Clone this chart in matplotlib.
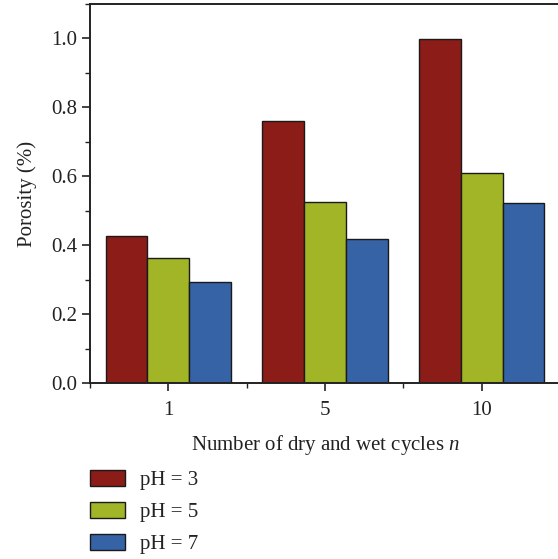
import matplotlib
matplotlib.use("Agg")
import matplotlib.pyplot as plt
import numpy as np
from matplotlib.ticker import MultipleLocator, FixedLocator

plt.rcParams['font.family'] = ['Liberation Serif', 'DejaVu Serif']
plt.rcParams['mathtext.fontset'] = 'custom'
plt.rcParams['mathtext.it'] = 'Liberation Serif:italic'

categories = ['1', '5', '10']
series_labels = ['pH = 3', 'pH = 5', 'pH = 7']
ph3 = [0.428, 0.760, 0.999]
ph5 = [0.363, 0.526, 0.609]
ph7 = [0.294, 0.419, 0.521]
colors = ['#8B1C18', '#A2B526', '#3563A6']

fig = plt.figure(figsize=(5.58, 5.59), dpi=100)
ax = fig.add_axes([90/558, 176/559, 470/558, 379/559])

x = np.arange(len(categories))
w = 0.8 / 3
for i, (vals, lab, c) in enumerate(zip([ph3, ph5, ph7], series_labels, colors)):
    ax.bar(x + (i - 1) * w, vals, width=w, color=c, edgecolor='#1a1a1a',
           linewidth=1.0, label=lab)

ax.set_xlim(-0.5, 2.5)
ax.set_ylim(0, 1.1)
ax.set_xticks(x)
ax.set_xticklabels(categories)
ax.xaxis.set_minor_locator(FixedLocator([-0.5, 0.5, 1.5]))
ax.yaxis.set_major_locator(MultipleLocator(0.2))
ax.yaxis.set_minor_locator(MultipleLocator(0.1))
ax.yaxis.set_major_formatter(matplotlib.ticker.FormatStrFormatter('%.1f'))
ax.tick_params(which='major', length=6, width=1.2, labelsize=15, color='#222222', labelcolor='#222222')
ax.tick_params(which='minor', length=3.5, width=1.0, color='#222222')
ax.tick_params(axis='x', pad=7)
ax.tick_params(axis='y', pad=3)
for s in ['left', 'bottom', 'top']:
    ax.spines[s].set_linewidth(1.4)
    ax.spines[s].set_color('#222222')
ax.spines['right'].set_visible(False)

ax.set_ylabel('Porosity (%)', fontsize=15, color='#222222', labelpad=10)
ax.set_xlabel('Number of dry and wet cycles $\\mathit{n}$', fontsize=15, color='#222222', labelpad=9)

handles, labels = ax.get_legend_handles_labels()
fig.legend(handles, labels, loc='upper left', bbox_to_anchor=(90/558, 1 - 470/559),
           frameon=False, fontsize=15, handlelength=1.68, handleheight=0.82,
           handletextpad=0.72, labelspacing=0.55, borderpad=0, borderaxespad=0,
           labelcolor='#222222')

fig.savefig('out.png', dpi=100)
